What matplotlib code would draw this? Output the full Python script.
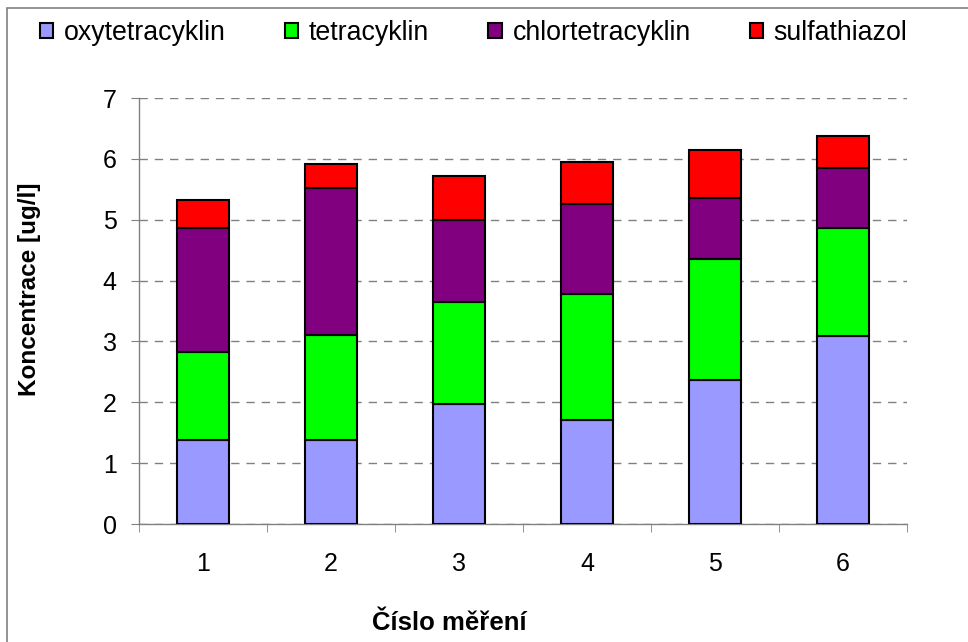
import matplotlib.pyplot as plt
import numpy as np
from matplotlib.patches import Rectangle

# data
mereni = ["1", "2", "3", "4", "5", "6"]
oxytetracyklin = [1.38, 1.38, 1.97, 1.71, 2.36, 3.09]
tetracyklin = [1.44, 1.73, 1.67, 2.07, 2.00, 1.77]
chlortetracyklin = [2.04, 2.41, 1.35, 1.48, 1.00, 0.99]
sulfathiazol = [0.47, 0.40, 0.73, 0.69, 0.79, 0.53]

series_names = ["oxytetracyklin", "tetracyklin", "chlortetracyklin", "sulfathiazol"]
colors = ["#9999FF", "#00FF00", "#800080", "#FF0000"]

plt.rcParams['font.family'] = ['Liberation Sans', 'DejaVu Sans']

fig = plt.figure(figsize=(9.68, 6.42), dpi=100)
ax = fig.add_axes([139 / 968, 1 - 524 / 642, (907 - 139) / 968, (524 - 98) / 642])

# outer chart frame
fig.patches.append(Rectangle((7 / 968, -0.1), 1.2, 1 - 8 / 642 + 0.1,
                             transform=fig.transFigure, fill=False,
                             edgecolor="#808080", linewidth=1.2))

x = np.arange(1, len(mereni) + 1)
bottom = np.zeros(len(mereni))
for name, vals, col in zip(series_names,
                           [oxytetracyklin, tetracyklin, chlortetracyklin, sulfathiazol],
                           colors):
    ax.bar(x, vals, width=0.4, bottom=bottom, color=col, edgecolor="black",
           linewidth=1.5, label=name, zorder=3)
    bottom += np.array(vals)

ax.set_xlim(0.5, 6.5)
ax.set_ylim(0, 7)
ax.set_yticks(range(0, 8))
ax.set_xticks(x)
ax.set_xticklabels(mereni)
ax.set_xticks(np.arange(0.5, 7, 1), minor=True)

ax.yaxis.grid(True, color="#808080", linestyle=(0, (6, 5)), linewidth=1, zorder=0)
ax.set_axisbelow(True)

for s in ["top", "right"]:
    ax.spines[s].set_visible(False)
for s in ["left", "bottom"]:
    ax.spines[s].set_color("#808080")
    ax.spines[s].set_linewidth(1)

ax.tick_params(axis="y", length=6, color="#808080", labelsize=18, pad=10)
ax.tick_params(axis="x", which="major", length=0, labelsize=18, pad=20)
ax.tick_params(axis="x", which="minor", length=6, color="#808080")

fig.text(30 / 968, 1 - 289 / 642, "Koncentrace [ug/l]", rotation=90,
         ha="center", va="center", fontsize=17.5, fontweight="bold")
fig.text(449 / 968, 1 - 623 / 642, "Číslo měření", ha="center", va="center",
         fontsize=18.5, fontweight="bold")

leg = ax.legend(loc="upper left", bbox_to_anchor=(40 / 968, 1 - 20 / 642),
                bbox_transform=fig.transFigure, ncol=4, frameon=False,
                fontsize=19.3, handlelength=0.5, handleheight=0.5,
                handletextpad=0.4, columnspacing=2.2, borderpad=0,
                borderaxespad=0)

fig.savefig("out.png", dpi=100)
